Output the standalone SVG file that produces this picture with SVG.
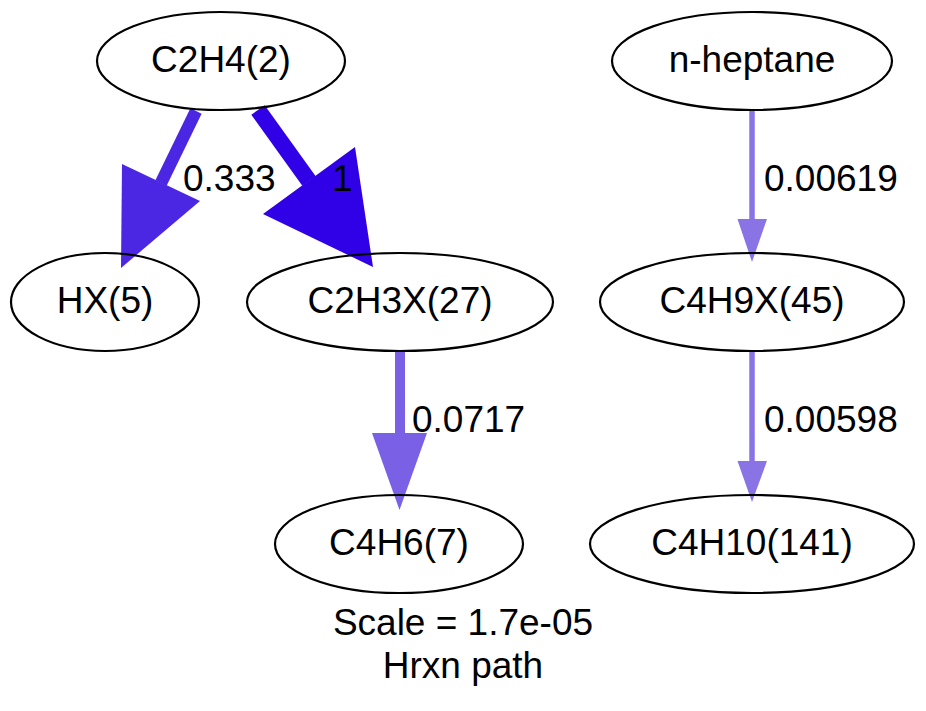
<svg xmlns="http://www.w3.org/2000/svg" width="926" height="711" viewBox="0 0 926 711">
<style>
text{font-family:"Liberation Sans",Arial,Helvetica,sans-serif;font-size:37px;fill:#000}
.n ellipse{fill:none;stroke:#000;stroke-width:2.2}
.n text{text-anchor:middle}
</style>
<rect width="926" height="711" fill="#fff"/>
<g id="edges">
<g id="e_c2h4_hx">
<line x1="196" y1="111" x2="161" y2="183" stroke="#4b27e4" stroke-width="12.5"/>
<polygon points="122,164 200,201 121,268" fill="#4b27e4"/>
<text x="183" y="191">0.333</text>
</g>
<g id="e_c2h4_c2h3x">
<line x1="258" y1="110" x2="309" y2="181" stroke="#3000e6" stroke-width="16.5"/>
<polygon points="263,214 355,147 373,267" fill="#3000e6"/>
<text x="332" y="191">1</text>
</g>
<g id="e_c2h3x_c4h6">
<line x1="400" y1="351" x2="400" y2="434" stroke="#7a60e4" stroke-width="10"/>
<polygon points="372,433 427,433 399.5,510" fill="#7a60e4"/>
<text x="412" y="432">0.0717</text>
</g>
<g id="e_hep_c4h9x">
<line x1="752" y1="110" x2="752" y2="220" stroke="#8a73e4" stroke-width="5.5"/>
<polygon points="737.5,219 767,219 752,262" fill="#8a73e4"/>
<text x="764" y="191">0.00619</text>
</g>
<g id="e_c4h9x_c4h10">
<line x1="752" y1="351" x2="752" y2="462" stroke="#8a73e4" stroke-width="5.5"/>
<polygon points="737.5,461 767,461 752,502" fill="#8a73e4"/>
<text x="764" y="432">0.00598</text>
</g>
</g>
<g id="C2H4" class="n"><ellipse cx="221" cy="61" rx="124" ry="49"/><text x="221" y="72">C2H4(2)</text></g>
<g id="nheptane" class="n"><ellipse cx="752" cy="61" rx="140" ry="49"/><text x="752" y="72">n-heptane</text></g>
<g id="HX" class="n"><ellipse cx="105" cy="302" rx="94" ry="49"/><text x="105" y="313">HX(5)</text></g>
<g id="C2H3X" class="n"><ellipse cx="400" cy="302" rx="153" ry="49"/><text x="400" y="313">C2H3X(27)</text></g>
<g id="C4H9X" class="n"><ellipse cx="752" cy="302" rx="152" ry="49"/><text x="752" y="313">C4H9X(45)</text></g>
<g id="C4H6" class="n"><ellipse cx="399" cy="544" rx="124" ry="49"/><text x="399" y="555">C4H6(7)</text></g>
<g id="C4H10" class="n"><ellipse cx="752" cy="544" rx="162" ry="49"/><text x="752" y="555">C4H10(141)</text></g>
<g id="label">
<text x="463" y="635" text-anchor="middle">Scale = 1.7e-05</text>
<text x="463" y="678" text-anchor="middle">Hrxn path</text>
</g>
</svg>
